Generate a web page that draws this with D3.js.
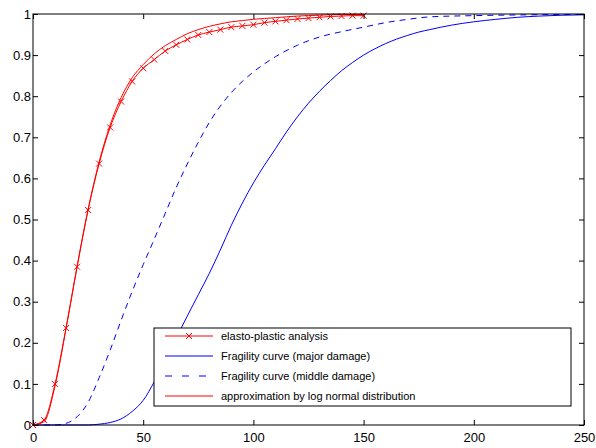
<!DOCTYPE html>
<html>
<head>
<meta charset="utf-8">
<script src="https://cdn.jsdelivr.net/npm/d3@7"></script>
<style>
  body { margin: 0; background: #fff; }
  svg { display: block; font-family: "Liberation Sans", Arial, sans-serif; }
</style>
</head>
<body>
<div class="container"></div>
<script>
'use strict';

// elasto-plastic analysis (with x markers)
var elastoX = [0, 5, 10, 15, 20, 25, 30, 35, 40, 45, 50, 55, 60, 65, 70, 75, 80, 85, 90, 95, 100, 105, 110, 115, 120, 125, 130, 135, 140, 145, 150];
var elastoY = [0, 0.012, 0.1, 0.236, 0.385, 0.523, 0.636, 0.724, 0.787, 0.836, 0.868, 0.889, 0.91, 0.925, 0.938, 0.949, 0.956, 0.962, 0.968, 0.971, 0.974, 0.979, 0.982, 0.985, 0.988, 0.99, 0.992, 0.994, 0.995, 0.996, 0.996];

// Fragility curve (major damage)
var majorX = [0, 25, 30, 35, 40, 45, 50, 55, 60, 65, 70, 75, 80, 85, 90, 95, 100, 105, 110, 115, 120, 125, 130, 135, 140, 145, 150, 155, 160, 165, 170, 175, 180, 190, 200, 210, 220, 230, 240, 250];
var majorY = [0, 0, 0.002, 0.006, 0.015, 0.033, 0.06, 0.105, 0.158, 0.212, 0.265, 0.317, 0.369, 0.426, 0.486, 0.54, 0.589, 0.632, 0.672, 0.713, 0.75, 0.783, 0.812, 0.838, 0.862, 0.882, 0.9, 0.915, 0.928, 0.939, 0.948, 0.956, 0.962, 0.973, 0.981, 0.987, 0.992, 0.995, 0.997, 0.998];

// Fragility curve (middle damage)
var middleX = [0, 10, 15, 20, 25, 30, 35, 40, 45, 50, 55, 60, 65, 70, 75, 80, 85, 90, 95, 100, 110, 120, 130, 140, 150, 160, 170, 180, 200, 225, 250];
var middleY = [0, 0, 0.004, 0.02, 0.055, 0.115, 0.182, 0.255, 0.325, 0.39, 0.452, 0.515, 0.578, 0.635, 0.688, 0.736, 0.776, 0.809, 0.836, 0.859, 0.896, 0.924, 0.944, 0.957, 0.968, 0.979, 0.987, 0.993, 0.996, 0.998, 0.999];

// approximation by log normal distribution
var approxX = [0, 5, 10, 15, 20, 25, 30, 35, 40, 45, 50, 55, 60, 65, 70, 75, 80, 85, 90, 95, 100, 110, 120, 130, 140, 150];
var approxY = [0, 0.008, 0.095, 0.235, 0.385, 0.525, 0.64, 0.73, 0.797, 0.845, 0.877, 0.903, 0.923, 0.938, 0.952, 0.962, 0.97, 0.976, 0.981, 0.984, 0.987, 0.991, 0.995, 0.997, 0.999, 0.999];

var xTicks = [0, 50, 100, 150, 200, 250];
var yTicks = [0, 0.1, 0.2, 0.3, 0.4, 0.5, 0.6, 0.7, 0.8, 0.9, 1];

var legendLabels = [
  'elasto-plastic analysis',
  'Fragility curve (major damage)',
  'Fragility curve (middle damage)',
  'approximation by log normal distribution'
];

var width = 596, height = 448;
var margin = { left: 33, right: 12, top: 14, bottom: 23 };

var svg = d3.select('.container').append('svg')
  .attr('width', width)
  .attr('height', height);

var x = d3.scaleLinear().domain([0, 250]).range([margin.left, width - margin.right]);
var y = d3.scaleLinear().domain([0, 1]).range([height - margin.bottom, margin.top]);

function pairs(xs, ys) {
  return xs.map(function(d, i) { return [d, ys[i]]; });
}

var line = d3.line()
  .x(function(d) { return x(d[0]); })
  .y(function(d) { return y(d[1]); })
  .curve(d3.curveMonotoneX);

var plot = svg.append('g');

plot.append('path')
  .datum(pairs(middleX, middleY))
  .attr('d', line)
  .attr('fill', 'none')
  .attr('stroke', '#0000ff')
  .attr('stroke-width', 1)
  .attr('stroke-dasharray', '6,5');

plot.append('path')
  .datum(pairs(majorX, majorY))
  .attr('d', line)
  .attr('fill', 'none')
  .attr('stroke', '#0000ff')
  .attr('stroke-width', 1);

plot.append('path')
  .datum(pairs(approxX, approxY))
  .attr('d', line)
  .attr('fill', 'none')
  .attr('stroke', '#ff0000')
  .attr('stroke-width', 1);

plot.append('path')
  .datum(pairs(elastoX, elastoY))
  .attr('d', line)
  .attr('fill', 'none')
  .attr('stroke', '#ff0000')
  .attr('stroke-width', 1);

var cross = 'M-3,-3L3,3M-3,3L3,-3';

plot.selectAll('.marker')
  .data(pairs(elastoX, elastoY))
  .enter().append('path')
  .attr('class', 'marker')
  .attr('transform', function(d) { return 'translate(' + x(d[0]) + ',' + y(d[1]) + ')'; })
  .attr('d', cross)
  .attr('stroke', '#ff0000')
  .attr('stroke-width', 1)
  .attr('fill', 'none');

// Axes box with inward ticks on all four sides
function styleAxis(g) {
  g.select('.domain').remove();
  g.selectAll('line').attr('stroke', '#000');
  g.selectAll('text').attr('fill', '#000').style('font-size', '13px');
}

svg.append('g')
  .attr('transform', 'translate(0,' + (height - margin.bottom) + ')')
  .call(d3.axisBottom(x).tickValues(xTicks).tickSizeInner(-5).tickSizeOuter(0).tickPadding(8).tickFormat(d3.format('d')))
  .call(styleAxis);

svg.append('g')
  .attr('transform', 'translate(0,' + margin.top + ')')
  .call(d3.axisTop(x).tickValues(xTicks).tickSizeInner(-5).tickSizeOuter(0).tickFormat(''))
  .call(styleAxis);

svg.append('g')
  .attr('transform', 'translate(' + margin.left + ',0)')
  .call(d3.axisLeft(y).tickValues(yTicks).tickSizeInner(-5).tickSizeOuter(0).tickPadding(2).tickFormat(function(d) { return d3.format('~g')(d); }))
  .call(styleAxis);

svg.append('g')
  .attr('transform', 'translate(' + (width - margin.right) + ',0)')
  .call(d3.axisRight(y).tickValues(yTicks).tickSizeInner(-5).tickSizeOuter(0).tickFormat(''))
  .call(styleAxis);

svg.append('rect')
  .attr('x', margin.left)
  .attr('y', margin.top)
  .attr('width', width - margin.left - margin.right)
  .attr('height', height - margin.top - margin.bottom)
  .attr('fill', 'none')
  .attr('stroke', '#000')
  .attr('stroke-width', 1);

// Legend
var legend = svg.append('g').attr('transform', 'translate(154,328)');

legend.append('rect')
  .attr('width', 417)
  .attr('height', 78)
  .attr('fill', '#fff')
  .attr('stroke', '#000')
  .attr('stroke-width', 1);

var styles = [
  { color: '#ff0000', dash: null, marker: true },
  { color: '#0000ff', dash: null, marker: false },
  { color: '#0000ff', dash: '7,10', marker: false },
  { color: '#ff0000', dash: null, marker: false }
];

var rows = legend.selectAll('.row')
  .data(legendLabels)
  .enter().append('g')
  .attr('class', 'row')
  .attr('transform', function(d, i) { return 'translate(0,' + (8 + i * 20) + ')'; });

rows.append('line')
  .attr('x1', 11)
  .attr('x2', 59)
  .attr('stroke', function(d, i) { return styles[i].color; })
  .attr('stroke-dasharray', function(d, i) { return styles[i].dash; })
  .attr('stroke-width', 1);

rows.filter(function(d, i) { return styles[i].marker; })
  .append('path')
  .attr('transform', 'translate(35,0)')
  .attr('d', cross)
  .attr('stroke', '#ff0000')
  .attr('fill', 'none');

rows.append('text')
  .attr('x', 67)
  .attr('dy', '0.35em')
  .style('font-size', '11px')
  .attr('fill', '#000')
  .text(function(d) { return d; });
</script>
</body>
</html>
